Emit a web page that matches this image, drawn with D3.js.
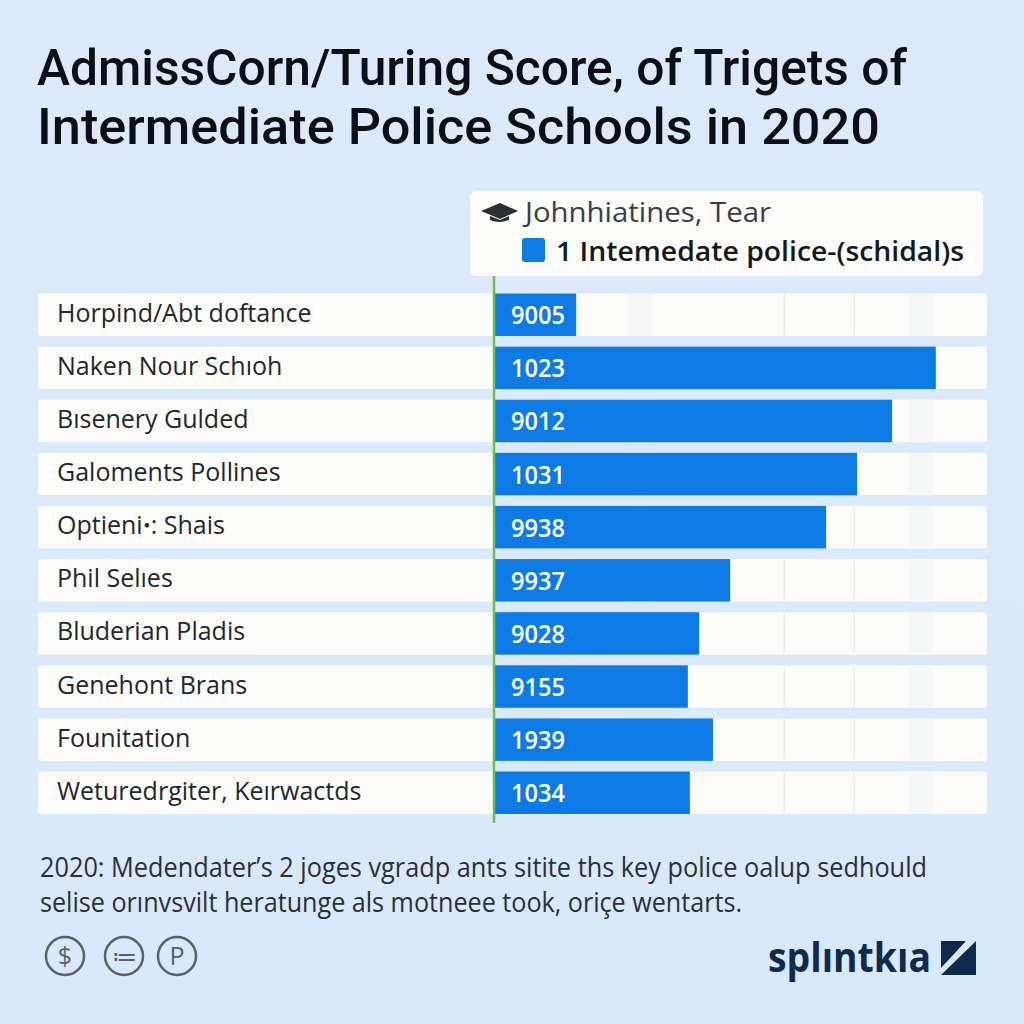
<!DOCTYPE html>
<html><head><meta charset="utf-8">
<script src="https://cdn.jsdelivr.net/npm/d3@7/dist/d3.min.js"></script>
<style>html,body{margin:0;padding:0;background:#dbe9fb}svg{display:block}text{font-family:"Open Sans",sans-serif}</style>
</head><body><svg id="c" width="1024" height="1024"></svg>
<script>
const titleLines = ["AdmissCorn/Turing Score, of Trigets of", "Intermediate Police Schools in 2020"];
const categories = ["Horpind/Abt doftance","Naken Nour Schıoh","Bısenery Gulded","Galoments Pollines","Optieniꞏ: Shais","Phil Selıes","Bluderian Pladis","Genehont Brans","Founitation","Weturedrgiter, Keırwactds"];
const barLabels = ["9005","1023","9012","1031","9938","9937","9028","9155","1939","1034"];
const barValues = [16.5,89.6,80.7,73.6,67.3,47.8,41.5,39.2,44.3,39.6];
const legendTitle = "Johnhiatines, Tear";
const legendItem = "1 Intemedate police-(schidal)s";
const thinGrid = [58.8,73];
const wideGrid = [29.5,86.5];
const footnote = ["2020: Medendater’s 2 joges vgradp ants sitite ths key police oalup sedhould","selise orınvsvilt heratunge als motneee took, oriçe wentarts."];
const brand = "splıntkıa";

const svg = d3.select("#c");
const defs = svg.append("defs");
const g = defs.append("linearGradient").attr("id","bg").attr("x1",0).attr("y1",0).attr("x2",0).attr("y2",1);
g.append("stop").attr("offset","0").attr("stop-color","#dceafb");
g.append("stop").attr("offset","1").attr("stop-color","#d9e8fb");
svg.append("rect").attr("width",1024).attr("height",1024).attr("fill","url(#bg)");

svg.selectAll("text.title").data(titleLines).join("text").attr("class","title")
  .attr("x",37).attr("y",(d,i)=>85+i*59).attr("font-size",50).attr("font-weight",500)
  .style("font-family","Roboto, sans-serif")
  .attr("fill","#0c1014")
  .attr("textLength",(d,i)=>i?843:870).attr("lengthAdjust","spacingAndGlyphs").text(d=>d);

const x = d3.scaleLinear().domain([0,100]).range([495,987]);
const y = d3.scaleBand().domain(categories).range([293.5,814]).paddingInner(0.2).paddingOuter(0);

svg.selectAll("rect.track").data(categories).join("rect").attr("class","track")
  .attr("x",38).attr("y",d=>y(d)).attr("width",949).attr("height",y.bandwidth()).attr("rx",3).attr("fill","#fcfcfb");

const rowsG = svg.append("g");
wideGrid.forEach(v=>categories.forEach(c=>rowsG.append("rect").attr("x",x(v)-12).attr("y",y(c)).attr("width",24).attr("height",y.bandwidth()).attr("fill","#f6f7f7")));
thinGrid.forEach(v=>categories.forEach(c=>rowsG.append("rect").attr("x",x(v)-0.75).attr("y",y(c)).attr("width",1.5).attr("height",y.bandwidth()).attr("fill","#ececec")));

svg.selectAll("rect.bar").data(barValues).join("rect").attr("class","bar")
  .attr("x",x(0)).attr("y",(d,i)=>y(categories[i])).attr("width",d=>x(d)-x(0)).attr("height",y.bandwidth()).attr("fill","#0d7be6");

svg.selectAll("text.cat").data(categories).join("text").attr("class","cat")
  .attr("x",57).attr("y",d=>y(d)+y.bandwidth()/2+7).attr("font-size",25).attr("fill","#23272c").text(d=>d);

svg.selectAll("text.val").data(barLabels).join("text").attr("class","val")
  .attr("x",511).attr("y",(d,i)=>y(categories[i])+y.bandwidth()/2+9.5).attr("font-size",25).attr("font-weight",600)
  .attr("fill","#fff").attr("textLength",54).attr("lengthAdjust","spacingAndGlyphs").text(d=>d);

svg.append("line").attr("x1",x(0)-1).attr("x2",x(0)-1).attr("y1",276).attr("y2",823).attr("stroke","#6fc04a").attr("stroke-width",2.5);

svg.append("rect").attr("x",470).attr("y",191).attr("width",513).attr("height",85).attr("rx",6).attr("fill","#fcfcfb");
const cap = d3.path();
cap.moveTo(481,211);cap.lineTo(500,203);cap.lineTo(518,211);cap.lineTo(500,219);cap.closePath();
svg.append("path").attr("d",cap.toString()).attr("fill","#2c2f33");
svg.append("path").attr("d","M490 216 L490 220 Q499 224 509 220 L509 216 L500 220 Z").attr("fill","#2c2f33");
svg.append("text").attr("x",525).attr("y",222).attr("font-size",28).attr("fill","#3a3e44")
  .attr("textLength",246).attr("lengthAdjust","spacingAndGlyphs").text(legendTitle);
svg.append("rect").attr("x",522).attr("y",238).attr("width",23).attr("height",24).attr("rx",3).attr("fill","#0d7be6");
svg.append("text").attr("x",556).attr("y",261).attr("font-size",27).attr("font-weight",600).attr("fill","#15181c")
  .attr("textLength",408).attr("lengthAdjust","spacingAndGlyphs").text(legendItem);

svg.selectAll("text.foot").data(footnote).join("text").attr("class","foot")
  .attr("x",40).attr("y",(d,i)=>877+i*35).attr("font-size",28).attr("fill","#2b3036")
  .attr("textLength",(d,i)=>i?702:887).attr("lengthAdjust","spacingAndGlyphs").text(d=>d);

const icons = [["$",65],["≔",124],["P",177]];
svg.selectAll("g.ic").data(icons).join("g").attr("class","ic").each(function(d){
  const n = d3.select(this);
  n.append("ellipse").attr("cx",d[1]).attr("cy",956).attr("rx",19).attr("ry",19).attr("fill","none").attr("stroke","#5b6168").attr("stroke-width",2.5);
  n.append("text").attr("x",d[1]).attr("y",965).attr("text-anchor","middle").attr("font-size",25).attr("fill","#5b6168").text(d[0]);
});

svg.append("text").attr("x",768).attr("y",972).attr("font-size",41).attr("font-weight",700).attr("fill","#0f2b4c")
  .attr("textLength",163).attr("lengthAdjust","spacingAndGlyphs").text(brand);
svg.append("rect").attr("x",941).attr("y",941).attr("width",35).attr("height",34).attr("fill","#0f2b4c");
svg.append("path").attr("d","M941 975 L941 968 L966 941 L976 941 Z").attr("fill","#dbe9fb");
</script></body></html>
